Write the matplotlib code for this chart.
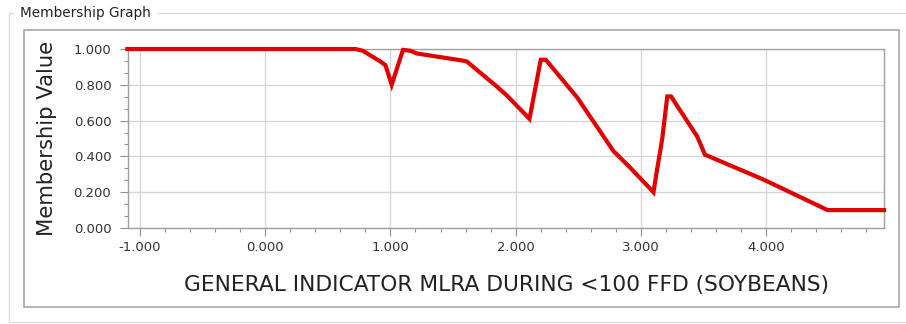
"""Membership graph recreation."""

import matplotlib

matplotlib.use("Agg")
import matplotlib.pyplot as plt
from matplotlib.patches import Rectangle
from matplotlib.ticker import AutoMinorLocator, FormatStrFormatter, MultipleLocator

# membership curve
x_vals = [-1.10, 0.72, 0.78, 0.92, 0.96, 1.01, 1.10, 1.16, 1.21, 1.58, 1.61,
          1.85, 1.93, 2.11, 2.20, 2.24, 2.49, 2.78, 2.91, 3.10, 3.12, 3.17,
          3.21, 3.24, 3.31, 3.45, 3.51, 3.61, 3.98, 4.49, 4.94]
y_vals = [1.000, 1.000, 0.990, 0.930, 0.910, 0.800, 0.995, 0.990, 0.975, 0.935, 0.930,
          0.790, 0.740, 0.610, 0.940, 0.940, 0.730, 0.430, 0.340, 0.200, 0.290, 0.500,
          0.735, 0.735, 0.660, 0.510, 0.410, 0.380, 0.270, 0.100, 0.100]

x_label = "GENERAL INDICATOR MLRA DURING <100 FFD (SOYBEANS)"
y_label = "Membership Value"
title = "Membership Graph"

W, H = 906, 324
fig = plt.figure(figsize=(W / 100, H / 100), dpi=100)
fig.patch.set_facecolor("white")

# group box frame + inner panel (pixel coords converted to figure fractions)
def px_rect(x0, y0, x1, y1, **kw):
    fig.patches.append(Rectangle((x0 / W, 1 - y1 / H), (x1 - x0) / W, (y1 - y0) / H,
                                 transform=fig.transFigure, fill=False, **kw))

px_rect(9, 13, 912, 322, edgecolor="#dcdcdc", linewidth=1.0)
px_rect(24, 30, 899, 307, edgecolor="#a8a8a8", linewidth=1.2)
fig.text(20 / W, 1 - 13 / H, title, fontsize=9.8, color="#222222", va="center",
         ha="left", backgroundcolor="white")

ax = fig.add_axes([128 / W, 1 - 228 / H, (884 - 128) / W, (228 - 49) / H])
ax.plot(x_vals, y_vals, color="#e00000", linewidth=3.0, solid_joinstyle="miter",
        clip_on=False, zorder=3)

ax.set_xlim(-1.095, 4.94)
ax.set_ylim(0, 1.0)
ax.xaxis.set_major_locator(MultipleLocator(1.0))
ax.xaxis.set_minor_locator(AutoMinorLocator(5))
ax.yaxis.set_major_locator(MultipleLocator(0.2))
ax.yaxis.set_minor_locator(AutoMinorLocator(3))
ax.xaxis.set_major_formatter(FormatStrFormatter("%.3f"))
ax.yaxis.set_major_formatter(FormatStrFormatter("%.3f"))

ax.grid(True, which="major", color="#d4d4d4", linewidth=0.9)
ax.set_axisbelow(True)
for s in ax.spines.values():
    s.set_color("#a0a0a0")
    s.set_linewidth(1.0)
ax.tick_params(which="major", length=6, color="#909090", labelsize=9.5,
               labelcolor="#333333", width=0.8)
ax.tick_params(axis="y", which="major", pad=6)
ax.tick_params(which="minor", length=3, color="#909090", width=0.8)

ax.set_xlabel(x_label, fontsize=15.7, color="#222222", labelpad=15)
ax.set_ylabel(y_label, fontsize=15.2, color="#222222", labelpad=12)

fig.savefig("out.png", dpi=100)
plt.close()
